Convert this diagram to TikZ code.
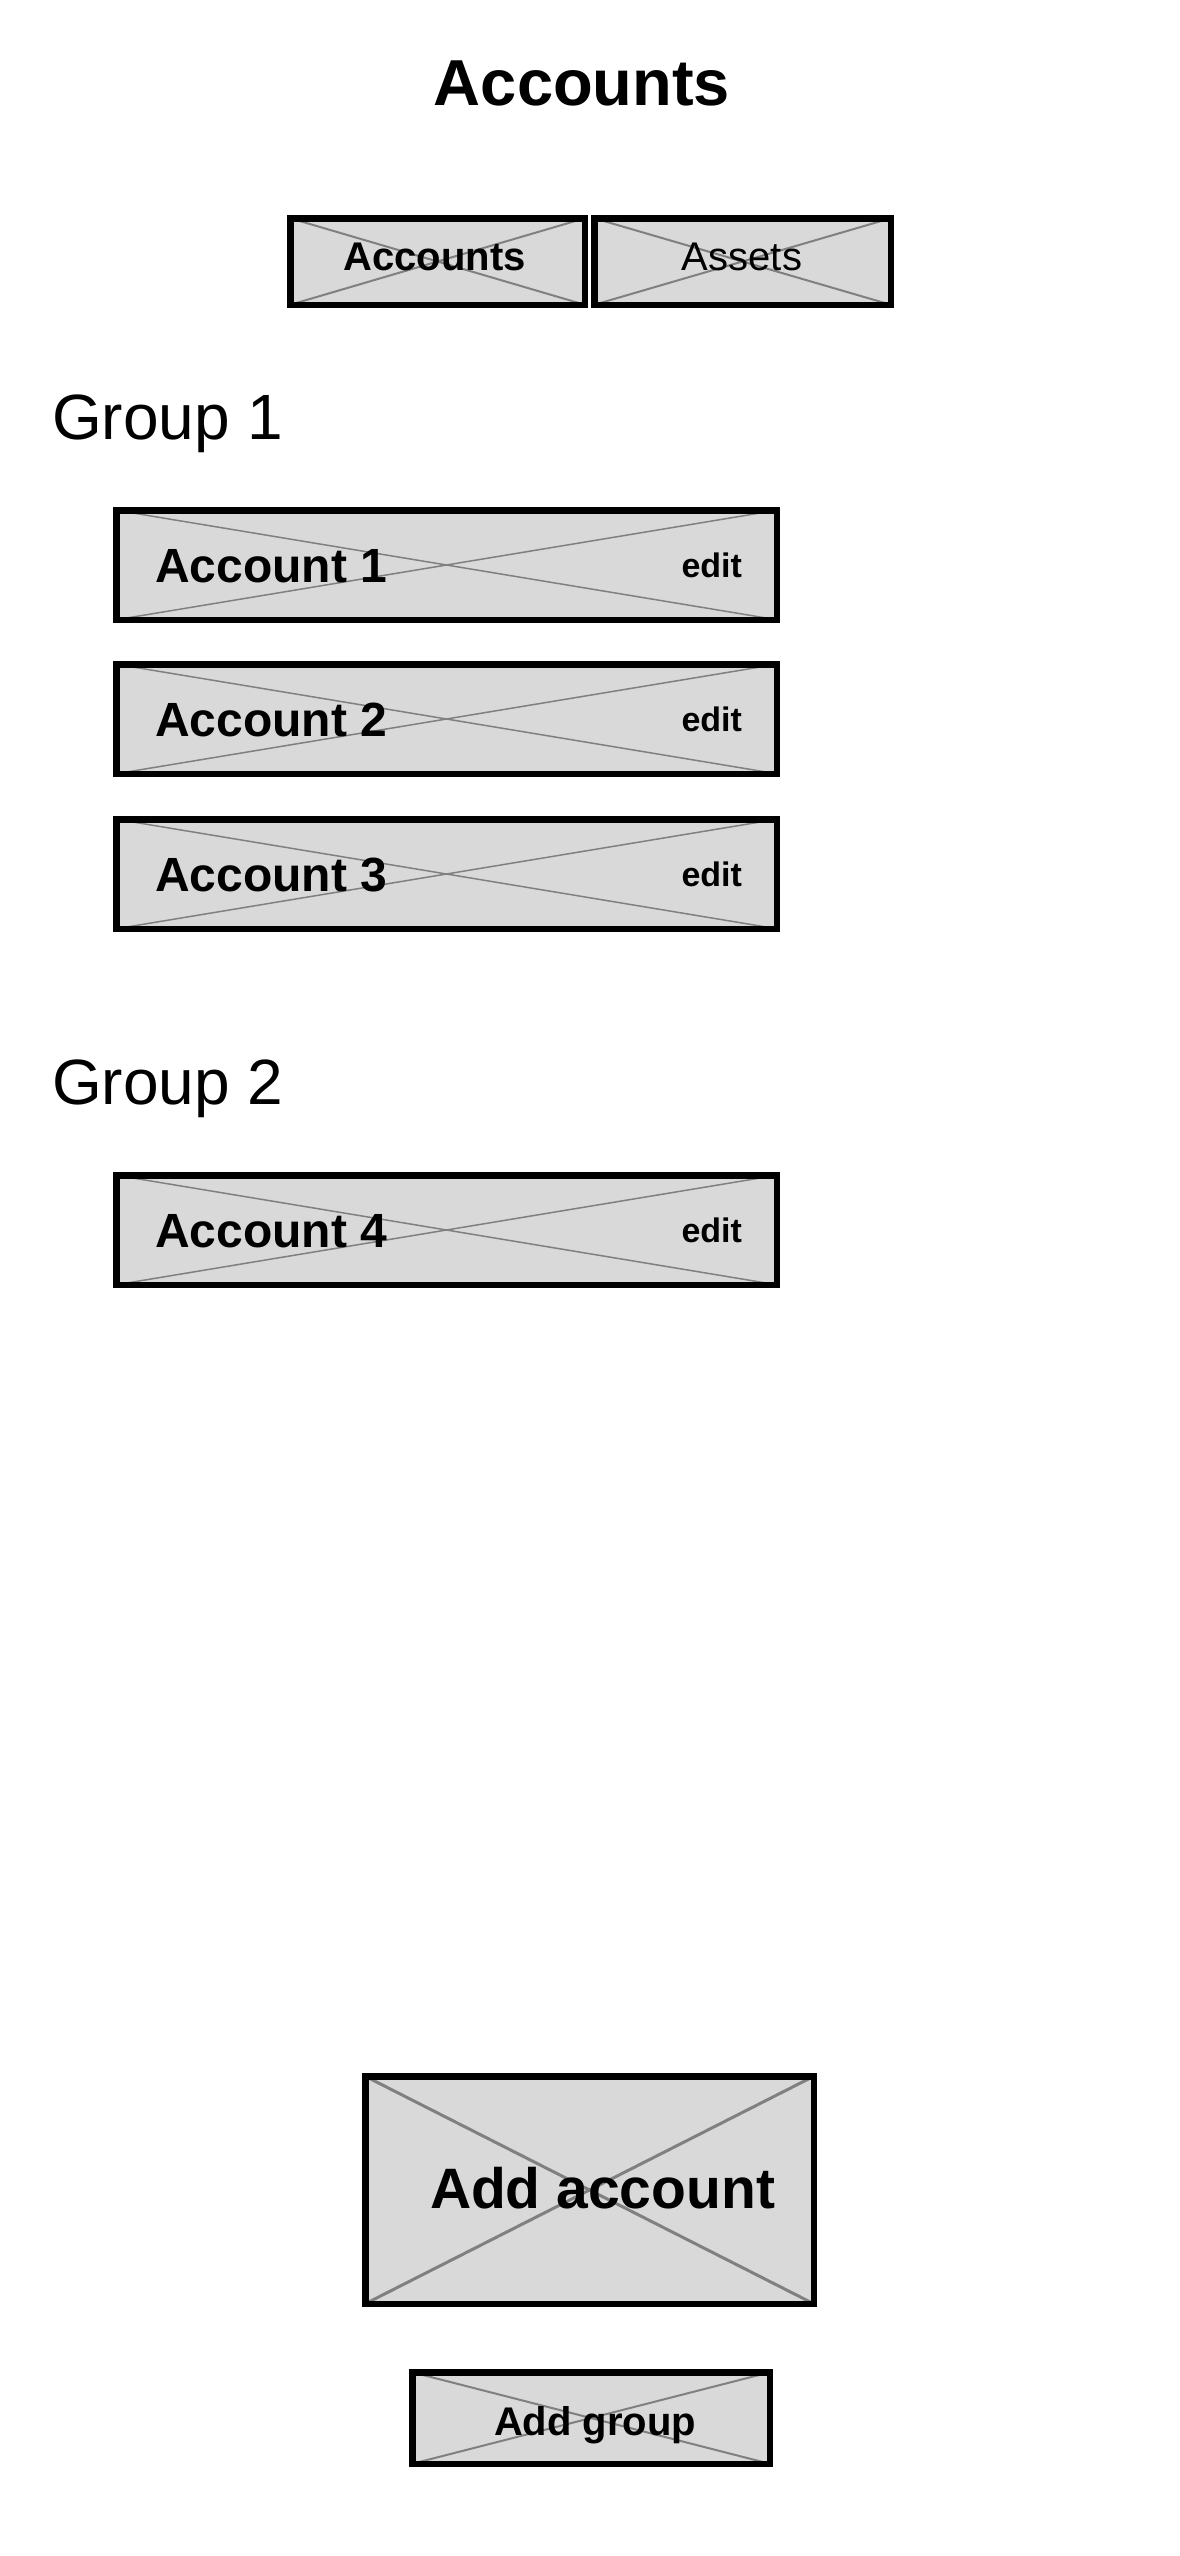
\documentclass[tikz,border=0pt]{standalone}
\usepackage{fontspec}
\setmainfont{Liberation Sans}
\definecolor{boxgray}{HTML}{D9D9D9}
\definecolor{xgray}{HTML}{808080}
\tikzset{
  boxfill/.style={fill=boxgray, draw=none, inner sep=0pt, outer sep=0pt},
  xline/.style={draw=xgray, line width=#1, shorten <=-3pt, shorten >=-3pt},
  xline/.default=1.5pt,
  boxborder/.style={draw=black, line width=6.5pt},
  txt/.style={inner sep=0pt, outer sep=0pt, text=black},
}
\newcommand{\fs}[1]{\fontsize{#1}{#1}\selectfont}
\begin{document}
\begin{tikzpicture}[x=1pt, y=-1pt]
\useasboundingbox[fill=white] (0,0) rectangle (1179,2556);

% title
\node[txt, anchor=base] (title) at (582,105) {\fs{65}\bfseries Accounts};

% tabs
\node[boxfill, minimum width=294.5pt, minimum height=86.5pt] (tab1) at (437.5,261.5) {};
\draw[xline=2pt] (tab1.north west) -- (tab1.south east) (tab1.south west) -- (tab1.north east);
\draw[boxborder] (tab1.north west) rectangle (tab1.south east);
\node[txt, anchor=base] (tab1t) at (434.5,270) {\fs{40}\bfseries Accounts};

\node[boxfill, minimum width=296.5pt, minimum height=86.5pt] (tab2) at (742.5,261.5) {};
\draw[xline=2pt] (tab2.north west) -- (tab2.south east) (tab2.south west) -- (tab2.north east);
\draw[boxborder] (tab2.north west) rectangle (tab2.south east);
\node[txt, anchor=base] (tab2t) at (742,270) {\fs{40}Assets};

% group 1
\node[txt, anchor=base west] (g1) at (52,439) {\fs{64}Group 1};

% accounts
\foreach \n/\top/\lab in {1/507/Account 1, 2/661/Account 2, 3/816/Account 3, 4/1172/Account 4}{
  \node[boxfill, minimum width=660.5pt, minimum height=109.5pt] (acc\n) at (446.5,\top+58) {};
  \draw[xline=1.5pt] (acc\n.north west) -- (acc\n.south east) (acc\n.south west) -- (acc\n.north east);
  \draw[boxborder] (acc\n.north west) rectangle (acc\n.south east);
  \node[txt, anchor=base west] (acc\n t) at (155,\top+75) {\fs{48}\bfseries \lab};
  \node[txt, anchor=base east] (acc\n e) at (742,\top+70) {\fs{34}\bfseries edit};
}

% group 2
\node[txt, anchor=base west] (g2) at (52,1104) {\fs{64}Group 2};

% add account
\node[boxfill, minimum width=448.5pt, minimum height=227.5pt] (addacc) at (589.5,2190) {};
\draw[xline=3pt] (addacc.north west) -- (addacc.south east) (addacc.south west) -- (addacc.north east);
\draw[boxborder] (addacc.north west) rectangle (addacc.south east);
\node[txt, anchor=base west] (addacct) at (430,2208) {\fs{57}\bfseries Add account};

% add group
\node[boxfill, minimum width=357.5pt, minimum height=91.5pt] (addgrp) at (591,2418) {};
\draw[xline=2pt] (addgrp.north west) -- (addgrp.south east) (addgrp.south west) -- (addgrp.north east);
\draw[boxborder] (addgrp.north west) rectangle (addgrp.south east);
\node[txt, anchor=base west] (addgrpt) at (494,2435) {\fs{40}\bfseries Add group};
\end{tikzpicture}
\end{document}
